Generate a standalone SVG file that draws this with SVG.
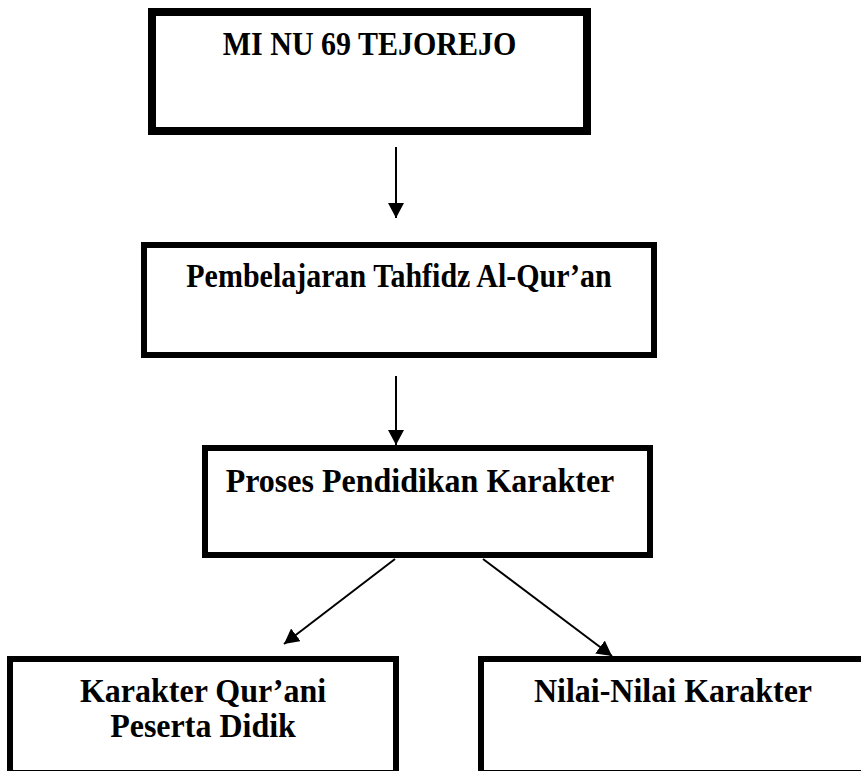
<svg xmlns="http://www.w3.org/2000/svg" width="861" height="771" viewBox="0 0 861 771">
  <style>
    .box { fill: #ffffff; stroke: #000000; stroke-width: 6; }
    .thick { stroke-width: 8; }
    .lbl { font-family: "Liberation Serif", "Times New Roman", serif; font-weight: bold; fill: #000000; text-anchor: middle; }
    .s30 { font-size: 30px; }
    .s32 { font-size: 32px; }
    .conn { stroke: #000000; stroke-width: 2; fill: none; marker-end: url(#arrow); }
  </style>
  <defs>
    <marker id="arrow" markerUnits="userSpaceOnUse" markerWidth="15" markerHeight="16" refX="15" refY="8" orient="auto" viewBox="0 0 15 16">
      <path d="M0,0 L15,8 L0,16 z" fill="#000000"/>
    </marker>
  </defs>
  <rect width="861" height="771" fill="#ffffff"/>

  <g id="node-mi-nu">
    <rect class="box thick" x="152" y="12" width="435" height="119"/>
    <text class="lbl s30" transform="translate(369.5,55) scale(1,1.1)" x="0" y="0">MI NU 69 TEJOREJO</text>
  </g>

  <g id="node-pembelajaran">
    <rect class="box" x="144" y="245" width="510" height="110"/>
    <text class="lbl s30" transform="translate(399,287) scale(1,1.12)" x="0" y="0">Pembelajaran Tahfidz Al-Qur’an</text>
  </g>

  <g id="node-proses">
    <rect class="box" x="205" y="448" width="445" height="107"/>
    <text class="lbl s32" transform="translate(420,492) scale(1,1.05)" x="0" y="0">Proses Pendidikan Karakter</text>
  </g>

  <g id="node-karakter-qurani">
    <rect class="box" x="10" y="659" width="386" height="114"/>
    <text class="lbl s32" transform="translate(203,702) scale(1,1.08)" x="0" y="0">Karakter Qur’ani</text>
    <text class="lbl s32" transform="translate(203,737) scale(1,1.08)" x="0" y="0">Peserta Didik</text>
  </g>

  <g id="node-nilai">
    <rect class="box" x="481" y="659" width="390" height="114"/>
    <text class="lbl s32" transform="translate(673,702) scale(1,1.08)" x="0" y="0">Nilai-Nilai Karakter</text>
  </g>

  <g id="connectors">
    <line class="conn" x1="396" y1="147" x2="396" y2="218"/>
    <line class="conn" x1="396" y1="376" x2="396" y2="445"/>
    <line class="conn" x1="395" y1="559" x2="284" y2="644"/>
    <line class="conn" x1="483" y1="559" x2="612" y2="656"/>
  </g>
</svg>
